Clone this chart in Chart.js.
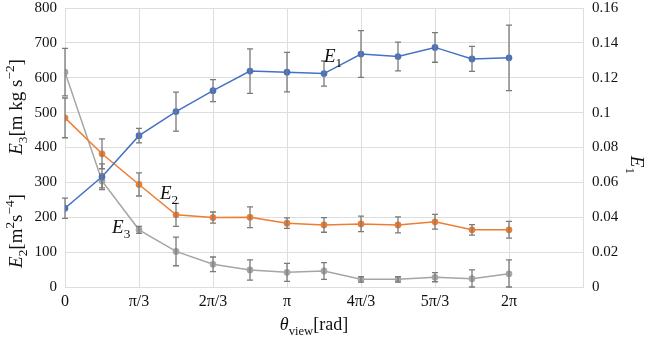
<!DOCTYPE html>
<html>
<head>
<meta charset="utf-8">
<script src="https://cdn.jsdelivr.net/npm/chart.js@4.4.1/dist/chart.umd.min.js"></script>
<style>
  html, body { margin: 0; padding: 0; background: #fff; }
  #wrap { width: 650px; height: 337px; }
</style>
</head>
<body>
<div id="wrap"><canvas id="myChart"></canvas></div>
<script>
// viewing angle, in steps of pi/6
const thetaSteps = [0, 1, 2, 3, 4, 5, 6, 7, 8, 9, 10, 11, 12];

// E1 (right axis)
const e1Values = [0.0452, 0.0632, 0.0868, 0.1006, 0.1126, 0.1238, 0.1232, 0.1224, 0.1336, 0.1322, 0.1374, 0.1308, 0.1314];
const e1Errors = [0.0058, 0.0074, 0.0042, 0.0112, 0.0063, 0.0128, 0.0113, 0.0072, 0.0134, 0.0082, 0.0085, 0.0072, 0.0188];

// E2 and E3 (left axis)
const e2Values = [485, 382, 294, 207, 199, 200, 183, 178, 181, 178, 187, 164, 164];
const e2Errors = [57, 43, 33, 33, 16, 30, 15, 21, 22, 23, 21, 15, 24];
const e3Values = [616, 304, 164, 102, 65, 49, 42, 46, 22, 22, 28, 24, 38];
const e3Errors = [68, 20, 10, 41, 21, 29, 26, 24, 8, 8, 13, 25, 40];

// x ticks in steps of pi/3
const xTickSteps = [0, 1, 2, 3, 4, 5, 6, 7];
const xTickLabels = ["0", "π/3", "2π/3", "π", "4π/3", "5π/3", "2π", ""];

const PI = Math.PI;
const SERIF = "'Liberation Serif', 'DejaVu Serif', serif";

function points(values) {
  return values.map((v, i) => ({ x: thetaSteps[i] * PI / 6, y: v }));
}

// draw text with sub/superscripts, parts: {t, it, sub, sup}
function richWidth(ctx, parts, size) {
  let w = 0;
  parts.forEach(p => {
    const s = (p.sub || p.sup) ? size * 0.7 : size;
    ctx.font = (p.it ? "italic " : "") + s + "px " + SERIF;
    w += ctx.measureText(p.t).width;
  });
  return w;
}
function drawRich(ctx, parts, x, y, size, align) {
  let w = richWidth(ctx, parts, size);
  let cx = align === "center" ? x - w / 2 : x;
  ctx.textAlign = "left";
  ctx.textBaseline = "alphabetic";
  parts.forEach(p => {
    const s = (p.sub || p.sup) ? size * 0.7 : size;
    ctx.font = (p.it ? "italic " : "") + s + "px " + SERIF;
    let dy = p.sub ? size * 0.25 : p.sup ? -size * 0.42 : 0;
    ctx.fillText(p.t, cx, y + dy);
    cx += ctx.measureText(p.t).width;
  });
}

const errorBars = {
  id: "errorBars",
  afterDatasetsDraw(chart) {
    const ctx = chart.ctx;
    const xs = chart.scales.x;
    ctx.save();
    ctx.strokeStyle = "#7a7a7a";
    ctx.lineWidth = 1.3;
    chart.data.datasets.forEach(ds => {
      const ys = chart.scales[ds.yAxisID];
      ds.data.forEach((p, i) => {
        const px = xs.getPixelForValue(p.x);
        const top = ys.getPixelForValue(p.y + ds.errors[i]);
        const bot = ys.getPixelForValue(Math.max(0, p.y - ds.errors[i]));
        ctx.beginPath();
        ctx.moveTo(px, top); ctx.lineTo(px, bot);
        ctx.moveTo(px - 3, top); ctx.lineTo(px + 3, top);
        ctx.moveTo(px - 3, bot); ctx.lineTo(px + 3, bot);
        ctx.stroke();
      });
    });
    ctx.restore();
  }
};

const labels = {
  id: "labels",
  afterDraw(chart) {
    const ctx = chart.ctx;
    const xs = chart.scales.x, ys = chart.scales.y;
    ctx.save();
    ctx.fillStyle = "#111";
    // series names
    drawRich(ctx, [{ t: "E", it: true }, { t: "1", sub: true }], xs.getPixelForValue(7 * PI / 6), ys.getPixelForValue(645), 19, "left");
    drawRich(ctx, [{ t: "E", it: true }, { t: "2", sub: true }], xs.getPixelForValue(0.428 * PI), ys.getPixelForValue(253), 19, "left");
    drawRich(ctx, [{ t: "E", it: true }, { t: "3", sub: true }], xs.getPixelForValue(0.212 * PI), ys.getPixelForValue(155), 19, "left");

    // left axis titles
    ctx.save();
    ctx.translate(22, 107);
    ctx.rotate(-PI / 2);
    drawRich(ctx, [{ t: "E", it: true }, { t: "3", sub: true }, { t: "[m kg s" }, { t: "−2", sup: true }, { t: "]" }], 0, 0, 19, "center");
    ctx.restore();
    ctx.save();
    ctx.translate(22, 231);
    ctx.rotate(-PI / 2);
    drawRich(ctx, [{ t: "E", it: true }, { t: "2", sub: true }, { t: "[m" }, { t: "2", sup: true }, { t: "s" }, { t: "−4", sup: true }, { t: "]" }], 0, 0, 19, "center");
    ctx.restore();

    // right axis title
    ctx.save();
    ctx.translate(631, 165);
    ctx.rotate(PI / 2);
    drawRich(ctx, [{ t: "E", it: true }, { t: "1", sub: true }], 0, 0, 19, "center");
    ctx.restore();

    // x axis title
    drawRich(ctx, [{ t: "θ", it: true }, { t: "view", sub: true }, { t: "[rad]" }], 314, 330, 18, "center");
    ctx.restore();
  }
};

const gridColor = "#dedede";

new Chart(document.getElementById("myChart").getContext("2d"), {
  type: "line",
  data: {
    datasets: [
      {
        label: "E1",
        data: points(e1Values),
        errors: e1Errors,
        yAxisID: "y1",
        borderColor: "#4472C4",
        backgroundColor: "#4472C4",
        borderWidth: 1.5,
        pointRadius: 2.6,
        fill: false,
      },
      {
        label: "E2",
        data: points(e2Values),
        errors: e2Errors,
        yAxisID: "y",
        borderColor: "#ED7D31",
        backgroundColor: "#ED7D31",
        borderWidth: 1.5,
        pointRadius: 2.6,
        fill: false,
      },
      {
        label: "E3",
        data: points(e3Values),
        errors: e3Errors,
        yAxisID: "y",
        borderColor: "#A5A5A5",
        backgroundColor: "#A5A5A5",
        borderWidth: 1.5,
        pointRadius: 2.6,
        fill: false,
      },
    ],
  },
  options: {
    responsive: true,
    maintainAspectRatio: false,
    animation: false,
    layout: { padding: 0 },
    plugins: { legend: { display: false }, tooltip: { enabled: false } },
    scales: {
      x: {
        type: "linear",
        min: 0,
        max: 7 * PI / 3,
        afterBuildTicks: scale => {
          scale.ticks = xTickSteps.map(k => ({ value: k * PI / 3 }));
        },
        afterFit: scale => { scale.height = 50; },
        grid: { color: gridColor, drawTicks: false },
        border: { color: gridColor },
        ticks: {
          autoSkip: false,
          maxRotation: 0,
          padding: 5,
          color: "#111",
          font: { family: SERIF, size: 16 },
          callback: (v, i) => xTickLabels[i],
        },
      },
      y: {
        position: "left",
        min: 0,
        max: 800,
        afterFit: scale => { scale.width = 65; scale.paddingTop = 8; },
        grid: { color: gridColor, drawTicks: false },
        border: { color: gridColor },
        ticks: { stepSize: 100, padding: 8, color: "#111", font: { family: SERIF, size: 15 } },
      },
      y1: {
        position: "right",
        min: 0,
        max: 0.16,
        afterFit: scale => { scale.width = 67; scale.paddingTop = 8; },
        grid: { drawOnChartArea: false, drawTicks: false },
        border: { color: gridColor },
        ticks: {
          stepSize: 0.02,
          padding: 9,
          color: "#111",
          font: { family: SERIF, size: 15 },
          callback: v => String(+v.toFixed(2)),
        },
      },
    },
  },
  plugins: [errorBars, labels],
});
</script>
</body>
</html>
